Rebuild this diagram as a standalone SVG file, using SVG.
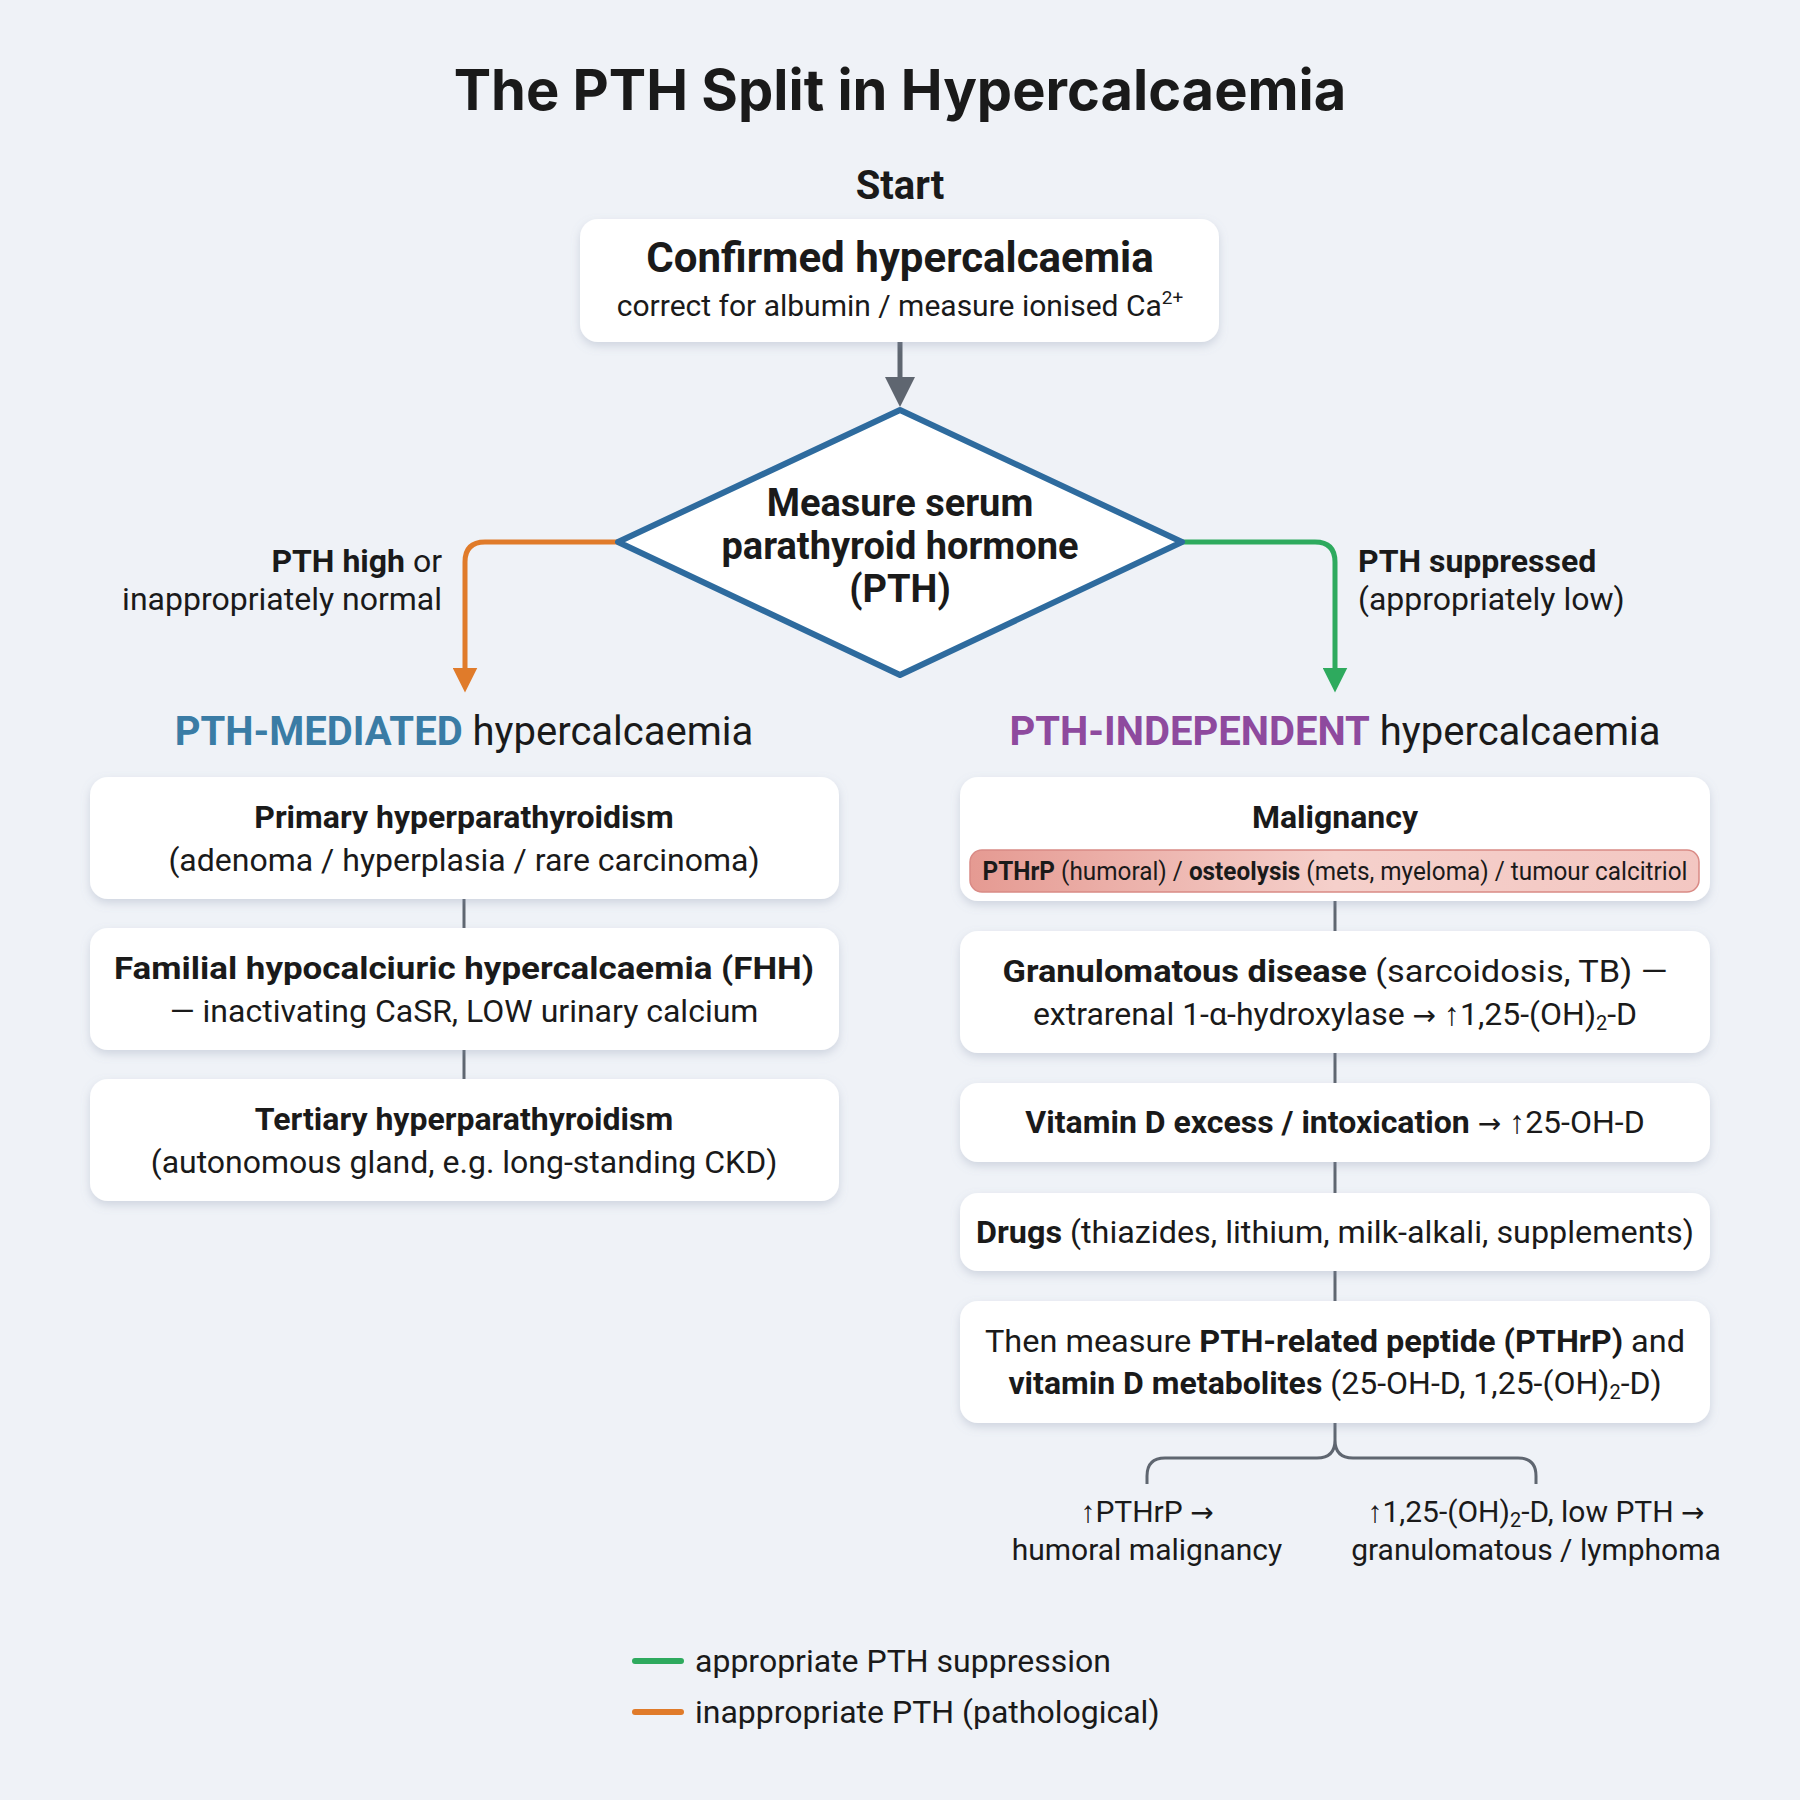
<svg xmlns="http://www.w3.org/2000/svg" width="1800" height="1800" viewBox="0 0 1800 1800">
<defs>
<filter id="sh" x="-10%" y="-20%" width="120%" height="150%"><feDropShadow dx="0" dy="4" stdDeviation="5" flood-color="#8090a8" flood-opacity="0.3"/></filter>
<linearGradient id="pill" x1="0" x2="1" y1="0" y2="0"><stop offset="0" stop-color="#e59a92"/><stop offset="0.5" stop-color="#f5d0cb"/><stop offset="1" stop-color="#f3c7c2"/></linearGradient>
<marker id="ag" viewBox="0 0 10 10" refX="5" refY="5" markerWidth="6" markerHeight="6" orient="auto"><path d="M0,0L10,5L0,10z" fill="#5f6670"/></marker>
<marker id="ao" viewBox="0 0 10 10" refX="5" refY="5" markerWidth="5" markerHeight="5" orient="auto"><path d="M0,0L10,5L0,10z" fill="#e07b2a"/></marker>
<marker id="agr" viewBox="0 0 10 10" refX="5" refY="5" markerWidth="5" markerHeight="5" orient="auto"><path d="M0,0L10,5L0,10z" fill="#2eaa5e"/></marker>
</defs>
<style>
text{font-family:Roboto,"Liberation Sans",sans-serif;fill:#1a1a1a;text-anchor:middle}
.b{font-weight:bold}
.t{font-size:32px}
.s{font-size:30px}
.ar{font-family:"DejaVu Sans",sans-serif;font-size:28px}
.box{fill:#fff;filter:url(#sh)}
.c{stroke:#5f6670;stroke-width:3;fill:none}
</style>
<rect width="1800" height="1800" fill="#eff2f7"/>
<text x="900" y="110" class="b" style="font-size:56px;font-family:Inter,'Open Sans',sans-serif">The PTH Split in Hypercalcaemia</text>
<text x="900" y="199" class="b" style="font-size:40px">Start</text>

<g id="connectors">
<line x1="900" y1="342" x2="900" y2="392" stroke="#5f6670" stroke-width="5" marker-end="url(#ag)"/>
<path d="M618,542 H485 Q465,542 465,562 V680" stroke="#e07b2a" stroke-width="5" fill="none" marker-end="url(#ao)"/>
<path d="M1182,542 H1315 Q1335,542 1335,562 V680" stroke="#2eaa5e" stroke-width="5" fill="none" marker-end="url(#agr)"/>
<line class="c" x1="464" y1="899" x2="464" y2="928"/>
<line class="c" x1="464" y1="1050" x2="464" y2="1079"/>
<line class="c" x1="1335" y1="901" x2="1335" y2="931"/>
<line class="c" x1="1335" y1="1053" x2="1335" y2="1083"/>
<line class="c" x1="1335" y1="1162" x2="1335" y2="1193"/>
<line class="c" x1="1335" y1="1271" x2="1335" y2="1301"/>
<path class="c" d="M1335,1423 V1440 Q1335,1458 1317,1458 H1165 Q1147,1458 1147,1476 V1484 M1335,1440 Q1335,1458 1353,1458 H1518 Q1536,1458 1536,1476 V1484"/>
</g>

<g id="n-start">
<rect class="box" x="580" y="219" width="639" height="123" rx="18"/>
<text x="900" y="272" class="b" style="font-size:42px">Confirmed hypercalcaemia</text>
<text x="900" y="316" class="s">correct for albumin / measure ionised Ca<tspan dy="-12" font-size="19">2+</tspan></text>
</g>

<g id="n-pth">
<polygon points="900,410 1182,542 900,675 618,542" fill="#fff" stroke="#2e6b9e" stroke-width="6" stroke-linejoin="round"/>
<text x="900" y="516" class="b" style="font-size:38px">Measure serum</text>
<text x="900" y="559" class="b" style="font-size:38px">parathyroid hormone</text>
<text x="900" y="602" class="b" style="font-size:38px">(PTH)</text>
</g>

<g id="labels">
<text x="442" y="572" class="t" style="text-anchor:end"><tspan class="b">PTH high</tspan> or</text>
<text x="442" y="610" class="t" style="text-anchor:end">inappropriately normal</text>
<text x="1358" y="572" class="t b" style="text-anchor:start">PTH suppressed</text>
<text x="1358" y="610" class="t" style="text-anchor:start">(appropriately low)</text>
<text x="464" y="745" style="font-size:40px"><tspan class="b" fill="#3a7ca5">PTH-MEDIATED</tspan> hypercalcaemia</text>
<text x="1335" y="745" style="font-size:40px"><tspan class="b" fill="#8e4a9e">PTH-INDEPENDENT</tspan> hypercalcaemia</text>
</g>

<g id="n-primary">
<rect class="box" x="90" y="777" width="749" height="122" rx="18"/>
<text x="464" y="828" class="t b">Primary hyperparathyroidism</text>
<text x="464" y="871" class="t">(adenoma / hyperplasia / rare carcinoma)</text>
</g>
<g id="n-fhh">
<rect class="box" x="90" y="928" width="749" height="122" rx="18"/>
<text x="464" y="979" class="t b" textLength="700" lengthAdjust="spacingAndGlyphs">Familial hypocalciuric hypercalcaemia (FHH)</text>
<text x="464" y="1022" class="t">— inactivating CaSR, LOW urinary calcium</text>
</g>
<g id="n-tertiary">
<rect class="box" x="90" y="1079" width="749" height="122" rx="18"/>
<text x="464" y="1130" class="t b">Tertiary hyperparathyroidism</text>
<text x="464" y="1173" class="t">(autonomous gland, e.g. long-standing CKD)</text>
</g>

<g id="n-malig">
<rect class="box" x="960" y="777" width="750" height="124" rx="18"/>
<text x="1335" y="828" class="t b">Malignancy</text>
<rect x="970" y="850" width="729" height="42" rx="12" fill="url(#pill)" stroke="#d98a85" stroke-width="1.5"/>
<text x="1335" y="880" style="font-size:25px" textLength="705" lengthAdjust="spacingAndGlyphs"><tspan class="b">PTHrP</tspan> (humoral) / <tspan class="b">osteolysis</tspan> (mets, myeloma) / tumour calcitriol</text>
</g>
<g id="n-gran">
<rect class="box" x="960" y="931" width="750" height="122" rx="18"/>
<text x="1335" y="982" class="t" textLength="665" lengthAdjust="spacingAndGlyphs"><tspan class="b">Granulomatous disease</tspan> (sarcoidosis, TB) —</text>
<text x="1335" y="1025" class="t">extrarenal 1-α-hydroxylase <tspan class="ar">→</tspan> ↑1,25-(OH)<tspan baseline-shift="-25%" font-size="20">2</tspan>-D</text>
</g>
<g id="n-vitd">
<rect class="box" x="960" y="1083" width="750" height="79" rx="18"/>
<text x="1335" y="1133" class="t"><tspan class="b">Vitamin D excess / intoxication</tspan> <tspan class="ar">→</tspan> ↑25-OH-D</text>
</g>
<g id="n-drugs">
<rect class="box" x="960" y="1193" width="750" height="78" rx="18"/>
<text x="1335" y="1243" class="t" textLength="718" lengthAdjust="spacingAndGlyphs"><tspan class="b">Drugs</tspan> (thiazides, lithium, milk-alkali, supplements)</text>
</g>
<g id="n-then">
<rect class="box" x="960" y="1301" width="750" height="122" rx="18"/>
<text x="1335" y="1352" class="t" textLength="700" lengthAdjust="spacingAndGlyphs">Then measure <tspan class="b">PTH-related peptide (PTHrP)</tspan> and</text>
<text x="1335" y="1394" class="t"><tspan class="b">vitamin D metabolites</tspan> (25-OH-D, 1,25-(OH)<tspan baseline-shift="-25%" font-size="20">2</tspan>-D)</text>
</g>

<g id="outcomes">
<text x="1147" y="1522" class="s">↑PTHrP <tspan class="ar">→</tspan></text>
<text x="1147" y="1560" class="s">humoral malignancy</text>
<text x="1536" y="1522" class="s">↑1,25-(OH)<tspan baseline-shift="-25%" font-size="20">2</tspan>-D, low PTH <tspan class="ar">→</tspan></text>
<text x="1536" y="1560" class="s">granulomatous / lymphoma</text>
</g>

<g id="legend">
<line x1="635" y1="1661" x2="681" y2="1661" stroke="#2eaa5e" stroke-width="6" stroke-linecap="round"/>
<text x="695" y="1672" class="t" style="text-anchor:start">appropriate PTH suppression</text>
<line x1="635" y1="1712" x2="681" y2="1712" stroke="#e07b2a" stroke-width="6" stroke-linecap="round"/>
<text x="695" y="1723" class="t" style="text-anchor:start">inappropriate PTH (pathological)</text>
</g>
</svg>
